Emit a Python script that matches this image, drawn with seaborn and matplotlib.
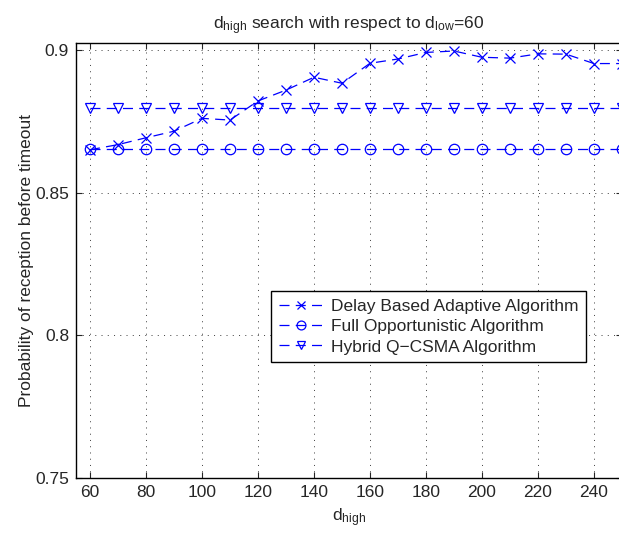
import matplotlib
matplotlib.use("Agg")
import matplotlib.pyplot as plt
import seaborn as sns
import pandas as pd

# ---- data ----
d_high = [60, 70, 80, 90, 100, 110, 120, 130, 140, 150,
          160, 170, 180, 190, 200, 210, 220, 230, 240, 250]
delay_based = [0.865, 0.8668, 0.8692, 0.8715, 0.8760, 0.8754, 0.8821, 0.8859, 0.8904, 0.8883,
               0.8953, 0.8968, 0.8991, 0.8996, 0.8974, 0.8971, 0.8986, 0.8985, 0.8952, 0.8952]
full_opp = [0.8651] * 20
hybrid = [0.8795] * 20
series_names = ["Delay Based Adaptive Algorithm",
                "Full Opportunistic Algorithm",
                "Hybrid Q\u2212CSMA Algorithm"]
x_ticks = [60, 80, 100, 120, 140, 160, 180, 200, 220, 240]
y_ticks = [0.75, 0.8, 0.85, 0.9]
y_tick_labels = ["0.75", "0.8", "0.85", "0.9"]

sns.set_style("ticks")
plt.rcParams['font.family'] = ['Liberation Sans', 'DejaVu Sans']
plt.rcParams['mathtext.fontset'] = 'custom'
plt.rcParams['mathtext.rm'] = 'Liberation Sans'

fs = 12.5
fig = plt.figure(figsize=(6.19, 5.34), dpi=100)
ax = fig.add_axes([0.1228, 0.1049, 0.882, 0.8151])

df = pd.DataFrame({"x": d_high, "a": delay_based, "b": full_opp, "c": hybrid})
styles = [("a", "x", "blue"), ("b", "o", "none"), ("c", "v", "none")]
for (col, mk, mfc), name in zip(styles, series_names):
    sns.lineplot(data=df, x="x", y=col, ax=ax, color="blue", linestyle="--",
                 dashes=False, marker=mk, markersize=7.5, markerfacecolor=mfc,
                 markeredgecolor="blue", markeredgewidth=0.9, linewidth=0.9,
                 label=name, clip_on=True)
for line in ax.get_lines():
    line.set_dashes([8, 5])

ax.set_xlim(55, 250)
ax.set_ylim(0.75, 0.9025)
ax.set_xticks(x_ticks)
ax.set_yticks(y_ticks)
ax.set_yticklabels(y_tick_labels)
ax.grid(True, linestyle=(0, (1.5, 7.5)), color="black", linewidth=0.5)
ax.tick_params(direction="in", top=True, right=True, labelsize=fs, length=4, width=0.8, pad=5)
for s in ax.spines.values():
    s.set_linewidth(1.0)
    s.set_color("black")

ax.set_xlabel(r"$\mathregular{d_{high}}$", fontsize=fs, labelpad=5)
ax.set_ylabel("Probability of reception before timeout", fontsize=fs, labelpad=1)
ax.set_title(r"$\mathregular{d_{high}}$ search with respect to $\mathregular{d_{low}}$=60",
             fontsize=fs, pad=10)

leg = ax.legend(loc="upper left", bbox_to_anchor=(0.357, 0.43), fontsize=fs,
                frameon=True, fancybox=False, edgecolor="black", framealpha=1,
                handlelength=2.6, handletextpad=0.4, borderpad=0.45, labelspacing=0.3,
                borderaxespad=0, markerscale=0.85)
leg.get_frame().set_linewidth(1.0)

fig.savefig("out.png", dpi=100)
